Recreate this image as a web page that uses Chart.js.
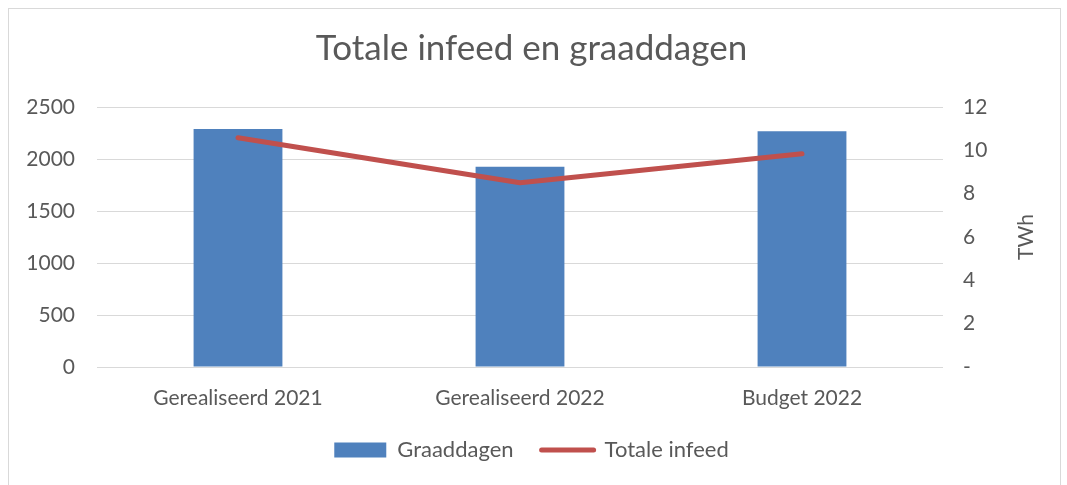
<!DOCTYPE html>
<html>
<head>
<meta charset="utf-8">
<script src="https://cdn.jsdelivr.net/npm/chart.js@4"></script>
<style>
	html, body { margin: 0; padding: 0; background: #fff; }
	#wrap { width: 1067px; height: 485px; position: relative; }
</style>
</head>
<body>
<div id="wrap"><canvas id="chart" width="1067" height="485"></canvas></div>
<script>
const categories = ['Gerealiseerd 2021', 'Gerealiseerd 2022', 'Budget 2022'];
const graaddagen = [2288, 1925, 2266];
const totaleInfeed = [10.58, 8.5, 9.84];

const textColor = '#595959';
const fontFamily = 'Lato, "Open Sans", sans-serif';

// light frame around the whole chart + rotated right axis title
const framePlugin = {
	id: 'frame',
	beforeDraw(chart) {
		const ctx = chart.ctx;
		ctx.save();
		ctx.fillStyle = '#fff';
		ctx.fillRect(0, 0, chart.width, chart.height);
		ctx.strokeStyle = '#d9d9d9';
		ctx.lineWidth = 1;
		ctx.strokeRect(8.5, 8.5, 1052, 480);
		ctx.restore();
	},
	afterDraw(chart) {
		const ctx = chart.ctx;
		const area = chart.chartArea;
		ctx.save();
		ctx.translate(1026, (area.top + area.bottom) / 2);
		ctx.rotate(-Math.PI / 2);
		ctx.fillStyle = textColor;
		ctx.font = '21px ' + fontFamily;
		ctx.textAlign = 'center';
		ctx.textBaseline = 'middle';
		ctx.fillText('TWh', 0, 0);
		ctx.restore();
	}
};

const data = {
	labels: categories,
	datasets: [
		{
			type: 'line',
			label: 'Totale infeed',
			data: totaleInfeed,
			yAxisID: 'y1',
			borderColor: '#c0504d',
			backgroundColor: '#c0504d',
			borderWidth: 5,
			borderCapStyle: 'round',
			borderJoinStyle: 'round',
			pointRadius: 0,
			tension: 0,
			order: 0
		},
		{
			type: 'bar',
			label: 'Graaddagen',
			data: graaddagen,
			yAxisID: 'y',
			backgroundColor: '#4f81bd',
			borderWidth: 0,
			barPercentage: 1,
			categoryPercentage: 0.315,
			order: 1
		}
	]
};

const config = {
	data: data,
	plugins: [framePlugin],
	options: {
		responsive: false,
		animation: false,
		layout: {
			padding: { left: 20, right: 24, top: 8, bottom: 14 }
		},
		plugins: {
			title: {
				display: true,
				text: 'Totale infeed en graaddagen',
				color: textColor,
				font: { size: 35, family: fontFamily, weight: 'normal' },
				padding: { top: 20, bottom: 37 }
			},
			legend: {
				position: 'bottom',
				labels: {
					color: textColor,
					font: { size: 22, family: fontFamily },
					usePointStyle: true,
					pointStyleWidth: 52,
					boxHeight: 15,
					padding: 28,
					generateLabels: () => [
						{ text: 'Graaddagen', fillStyle: '#4f81bd', strokeStyle: '#4f81bd', lineWidth: 0, pointStyle: 'rect', datasetIndex: 1, fontColor: textColor },
						{ text: 'Totale infeed', fillStyle: '#c0504d', strokeStyle: '#c0504d', lineWidth: 5, lineCap: 'round', pointStyle: 'line', datasetIndex: 0, fontColor: textColor }
					]
				}
			},
			tooltip: { enabled: false }
		},
		scales: {
			x: {
				grid: { display: false, drawTicks: false },
				border: { display: false },
				ticks: {
					color: textColor,
					font: { size: 21, family: fontFamily },
					padding: 19,
					maxRotation: 0,
					autoSkip: false
				},
				afterFit(scale) { scale.height = 44; }
			},
			y: {
				position: 'left',
				min: 0,
				max: 2500,
				grid: { color: '#d9d9d9', drawTicks: false, lineWidth: 1 },
				border: { display: false },
				ticks: {
					stepSize: 500,
					color: textColor,
					font: { size: 21, family: fontFamily },
					padding: 22,
					callback: (v) => String(v)
				},
				afterFit(scale) { scale.width = 77; }
			},
			y1: {
				position: 'right',
				min: 0,
				max: 12,
				grid: { display: false, drawTicks: false },
				border: { display: false },
				ticks: {
					stepSize: 2,
					color: textColor,
					font: { size: 21, family: fontFamily },
					padding: 20,
					callback: (v) => v === 0 ? '-' : String(v)
				},
				afterFit(scale) { scale.width = 100; }
			}
		}
	}
};

const myChart = new Chart(document.getElementById('chart'), config);
</script>
</body>
</html>
